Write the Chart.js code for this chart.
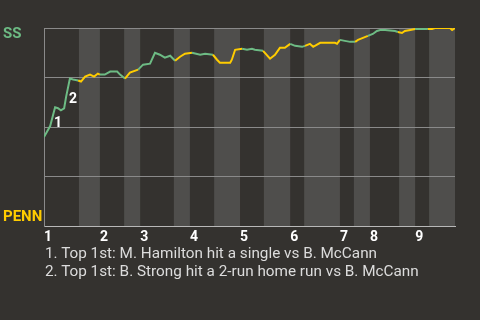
<!DOCTYPE html>
<html>
<head>
<meta charset="utf-8">
<script src="https://cdn.jsdelivr.net/npm/chart.js@4"></script>
<style>
  html, body { margin: 0; padding: 0; background: #34322f; }
  #wrap { position: relative; width: 480px; height: 320px; overflow: hidden; }
  #chart { position: absolute; left: 0; top: 0; }
  .note { position: absolute; left: 45px; font: 15.3px Roboto, sans-serif; line-height: 18px; color: #dcdcdc; white-space: nowrap; }
</style>
</head>
<body>
<div id="wrap">
  <canvas id="chart" width="480" height="320"></canvas>
  <div class="note" style="top:244px">1. Top 1st: M. Hamilton hit a single vs B. McCann</div>
  <div class="note" style="top:262px">2. Top 1st: B. Strong hit a 2-run home run vs B. McCann</div>
</div>
<script>
const teamTop = "SS";
const teamBottom = "PENN";

// play position (game progress, 0-100) and SS win probability (%)
const playX = [0, 1.5, 2.7, 3.4, 4.1, 4.9, 5.4, 6.3, 7.1, 8.3,
    9.0, 10.0, 11.2, 12.2, 13.1, 13.6, 14.8, 16.1, 17.8, 18.5,
    19.7, 20.9, 22.9, 24.1, 25.8, 27.0, 28.2, 29.4, 30.7, 31.9,
    33.1, 34.3, 36.0, 38.0, 39.2, 41.1, 42.1, 42.8, 45.3, 45.7,
    46.5, 48.2, 49.4, 50.6, 51.3, 53.3, 55.0, 56.2, 57.4, 58.6,
    59.9, 61.1, 62.8, 63.5, 64.7, 65.5, 67.2, 70.8, 71.3, 72.0,
    73.2, 74.5, 75.7, 76.4, 77.6, 78.8, 80.0, 81.0, 81.8, 83.0,
    85.4, 86.1, 87.1, 87.8, 89.1, 90.3, 93.4, 94.4, 95.1, 98.8,
    99.3, 100];
const ssWinPct = [45, 50.5, 60, 59.5, 58.5, 59.5, 65.5, 74.5, 74, 73.5,
    73, 75.5, 76.5, 75.5, 77, 76.5, 76.5, 78, 78, 76.5,
    74.5, 77.5, 79, 81.5, 82, 87.5, 86.5, 85, 86, 83.5,
    85.5, 87, 87.5, 86.5, 87, 86.5, 84, 82.5, 82.5, 84,
    89, 89.5, 89, 89.5, 89, 88.5, 84.5, 86.5, 90, 90,
    92, 91, 90.5, 91, 92, 90.5, 92.5, 92.5, 92, 94,
    93.5, 93, 93, 94, 95, 96, 97, 98.5, 99, 99,
    98.5, 98, 97.5, 98.5, 99, 99.5, 99.5, 99.5, 100, 100,
    99, 100];

// start of each half inning (top, bottom, top, ...)
const halfInningStarts = [0, 8.5, 13.6, 19.5, 23.4, 31.6, 35.5, 41.4, 47.7, 53.5,
    59.9, 63.3, 72.0, 75.4, 79.3, 86.4, 90.3, 93.7];
const gameEnd = 100;
const inningLabels = ["1", "2", "3", "4", "5", "6", "7", "8", "9"];

// key plays marked on the line
const eventPlays = [2, 7];
const eventLabels = ["1", "2"];
const eventOffsets = [[3, 16], [3, 21]];

const GREEN = "#6dbb84";
const YELLOW = "#ffcc00";
const BAND = "#4f4e4c";
const FONT = "Roboto, sans-serif";

function halfAt(x) {
    let h = 0;
    halfInningStarts.forEach((s, i) => {
        if (x >= s) h = i;
    });
    return h;
}

const bandsPlugin = {
    id: "bands",
    beforeDraw(chart) {
        const { ctx, chartArea, scales } = chart;
        ctx.save();
        ctx.fillStyle = BAND;
        halfInningStarts.forEach((s, i) => {
            if (i % 2 === 0) return;
            const end = i + 1 < halfInningStarts.length ? halfInningStarts[i + 1] : gameEnd;
            const x0 = scales.x.getPixelForValue(s);
            const x1 = scales.x.getPixelForValue(end);
            ctx.fillRect(x0, chartArea.top, x1 - x0, chartArea.bottom - chartArea.top);
        });
        ctx.restore();
    }
};

const labelsPlugin = {
    id: "labels",
    afterDraw(chart) {
        const { ctx, scales } = chart;
        ctx.save();
        ctx.textBaseline = "middle";
        ctx.font = "bold 15px " + FONT;
        ctx.textAlign = "left";
        ctx.fillStyle = GREEN;
        ctx.fillText(teamTop, 3, scales.y.getPixelForValue(100) + 6);
        ctx.fillStyle = YELLOW;
        ctx.fillText(teamBottom, 3, scales.y.getPixelForValue(0) - 9);

        ctx.font = "bold 14px " + FONT;
        ctx.textAlign = "center";
        ctx.fillStyle = "#ffffff";
        eventPlays.forEach((idx, i) => {
            const px = scales.x.getPixelForValue(playX[idx]);
            const py = scales.y.getPixelForValue(ssWinPct[idx]);
            ctx.fillText(eventLabels[i], px + eventOffsets[i][0], py + eventOffsets[i][1]);
        });
        ctx.restore();
    }
};

const points = playX.map((x, i) => ({ x, y: ssWinPct[i] }));

new Chart(document.getElementById("chart"), {
    type: "line",
    data: {
        datasets: [{
            data: points,
            borderWidth: 2,
            pointRadius: 0,
            tension: 0,
            borderColor: GREEN,
            segment: {
                borderColor: c => {
                    const mid = (c.p0.parsed.x + c.p1.parsed.x) / 2;
                    return halfAt(mid) % 2 === 0 ? GREEN : YELLOW;
                }
            }
        }]
    },
    options: {
        responsive: false,
        animation: false,
        layout: { padding: { left: 44, right: 25, top: 28, bottom: 71 } },
        plugins: { legend: { display: false }, tooltip: { enabled: false } },
        scales: {
            x: {
                type: "linear",
                min: 0,
                max: gameEnd,
                grid: { display: false, drawTicks: false },
                border: { display: true, color: "#b8b8b8", width: 1 },
                afterBuildTicks: axis => {
                    axis.ticks = halfInningStarts.filter((_, i) => i % 2 === 0).map(v => ({ value: v }));
                },
                ticks: {
                    autoSkip: false,
                    maxRotation: 0,
                    align: "start",
                    padding: 3,
                    color: "#ffffff",
                    font: { family: FONT, size: 14, weight: "bold" },
                    callback: (v, i) => inningLabels[i]
                }
            },
            y: {
                min: 0,
                max: 100,
                grid: { color: "#8a8a8a", drawTicks: false },
                border: { display: true, color: "#8a8a8a" },
                ticks: { display: false, stepSize: 25 }
            }
        }
    },
    plugins: [bandsPlugin, labelsPlugin]
});
</script>
</body>
</html>
